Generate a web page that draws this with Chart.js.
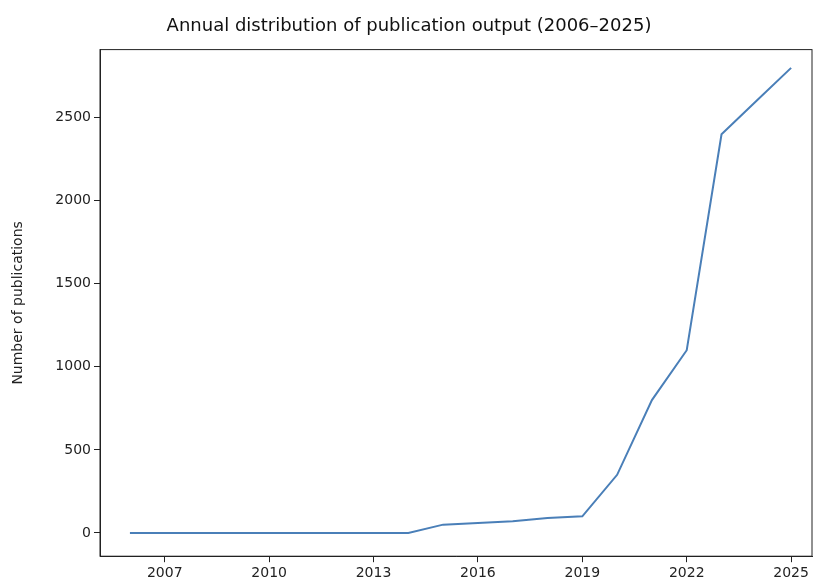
<!DOCTYPE html>
<html>
<head>
<script src="https://cdn.jsdelivr.net/npm/chart.js@4"></script>
<style>
body { margin: 0; background: #fff; }
#wrap { width: 826px; height: 585px; }
</style>
</head>
<body>
<div id="wrap"><canvas id="grafica"></canvas></div>
<script>
// datos
var years = [2006, 2007, 2008, 2009, 2010, 2011, 2012, 2013, 2014, 2015, 2016, 2017, 2018, 2019, 2020, 2021, 2022, 2023, 2024, 2025];
var publications = [0, 0, 0, 0, 0, 0, 0, 0, 0, 50, 60, 70, 90, 100, 350, 800, 1100, 2400, 2600, 2800];
var xTicks = [2007, 2010, 2013, 2016, 2019, 2022, 2025];
var yTicks = [0, 500, 1000, 1500, 2000, 2500];

var puntos = [];
for (var i = 0; i < years.length; i++) {
    puntos.push({ x: years[i], y: publications[i] });
}

Chart.defaults.font.family = "'DejaVu Sans', sans-serif";
Chart.defaults.color = '#222';

new Chart(document.getElementById('grafica'), {
    type: 'line',
    data: {
        datasets: [{
            data: puntos,
            borderColor: '#4a7fb8',
            borderWidth: 2,
            pointRadius: 0,
            tension: 0
        }]
    },
    options: {
        responsive: true,
        maintainAspectRatio: false,
        animation: false,
        layout: { padding: { top: 12, right: 14, left: 6, bottom: 0 } },
        plugins: {
            legend: { display: false },
            tooltip: { enabled: false },
            title: {
                display: true,
                text: 'Annual distribution of publication output (2006\u20132025)',
                font: { size: 18, weight: 'normal' },
                color: '#111',
                padding: { top: 4, bottom: 12 }
            }
        },
        scales: {
            x: {
                type: 'linear',
                min: 2005.14,
                max: 2025.6,
                afterBuildTicks: function(axis) {
                    axis.ticks = xTicks.map(function(v) { return { value: v }; });
                },
                ticks: { font: { size: 14 }, color: '#222', callback: function(v) { return String(v); } },
                grid: { display: true, drawOnChartArea: false, drawTicks: true, tickLength: 6, color: '#222' },
                border: { display: true, color: '#222' }
            },
            y: {
                min: -140,
                max: 2910,
                afterBuildTicks: function(axis) {
                    axis.ticks = yTicks.map(function(v) { return { value: v }; });
                },
                afterFit: function(axis) { axis.width = 94; },
                title: { display: true, text: 'Number of publications', font: { size: 14 }, color: '#222' },
                ticks: { font: { size: 14 }, color: '#222', callback: function(v) { return String(v); } },
                grid: { display: true, drawOnChartArea: false, drawTicks: true, tickLength: 6, color: '#222' },
                border: { display: true, color: '#222' }
            }
        }
    },
    plugins: [{
        id: 'marco',
        afterDraw: function(chart) {
            var a = chart.chartArea, ctx = chart.ctx;
            ctx.save();
            ctx.strokeStyle = '#222';
            ctx.lineWidth = 1;
            ctx.strokeRect(a.left, a.top, a.right - a.left, a.bottom - a.top);
            ctx.restore();
        }
    }]
});
</script>
</body>
</html>
